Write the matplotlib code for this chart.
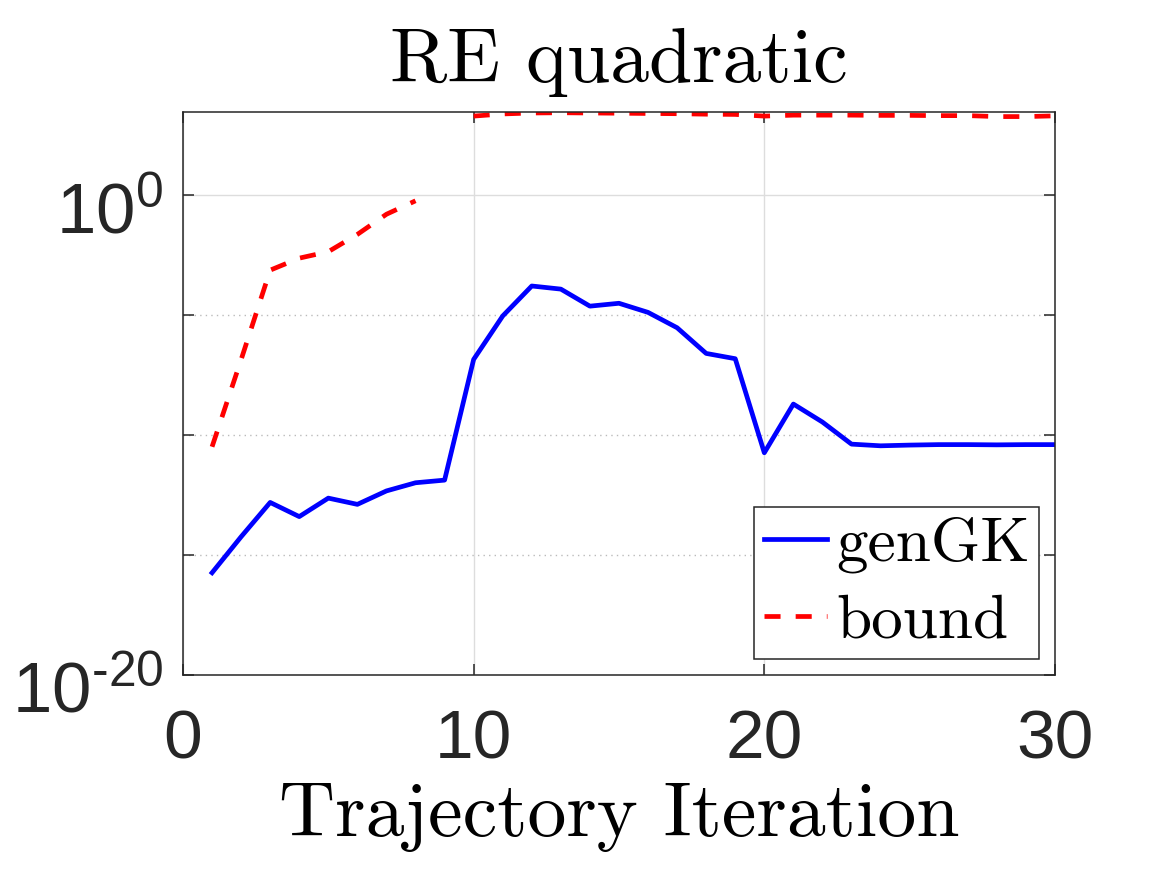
import numpy as np
import matplotlib
matplotlib.use("Agg")
import matplotlib.pyplot as plt
from matplotlib.transforms import ScaledTranslation

# Datos (log10 de los valores)
iteraciones = np.arange(1, 31)
gengk_log10 = [-15.74, -14.24, -12.81, -13.40, -12.63, -12.89, -12.33, -11.99, -11.88, -6.85,
               -5.04, -3.79, -3.92, -4.63, -4.51, -4.89, -5.53, -6.60, -6.82, -10.74,
               -8.71, -9.46, -10.38, -10.45, -10.42, -10.40, -10.40, -10.41, -10.40, -10.40]
bound_log10 = [-10.49, -6.86, -3.13, -2.63, -2.36, -1.64, -0.80, -0.24, np.nan, 3.29,
               3.38, 3.42, 3.43, 3.42, 3.41, 3.40, 3.39, 3.37, 3.36, 3.29,
               3.33, 3.33, 3.33, 3.32, 3.32, 3.31, 3.31, 3.27, 3.27, 3.30]
xticks = [0, 10, 20, 30]
yticks = [1e-20, 1e0]
yticklabels = [r"$10^{\text{-}20}$", r"$10^{0}$"]

gengk = 10.0 ** np.array(gengk_log10)
bound = 10.0 ** np.array(bound_log10)

plt.rcParams["font.family"] = ["Liberation Sans", "DejaVu Sans"]
plt.rcParams["mathtext.fontset"] = "custom"
plt.rcParams["mathtext.rm"] = "Liberation Sans"
plt.rcParams["mathtext.default"] = "regular"

fig = plt.figure(figsize=(11.67, 8.75), dpi=100)
ax = fig.add_axes([0.1568, 0.2286, 0.9040 - 0.1568, 0.8717 - 0.2286])

ax.plot(iteraciones, gengk, color="#0000ff", lw=3.4, label="genGK")
ax.plot(iteraciones, bound, color="#ff0000", lw=3.4, dashes=(3.4, 3.2), label="bound")

ax.set_yscale("log")
ax.set_xlim(0, 30)
ax.set_ylim(1e-20, 10 ** 3.45)

ax.set_xticks(xticks)
ax.set_yticks(yticks)
ax.set_yticks([1e-15, 1e-10, 1e-5], minor=True)
ax.set_yticklabels(yticklabels)
ax.yaxis.set_minor_formatter(matplotlib.ticker.NullFormatter())

ax.tick_params(axis="both", which="both", direction="in", top=True, right=True,
               length=8, width=1.1, color="#262626", labelcolor="#262626")
ax.tick_params(axis="x", labelsize=50, pad=24)
ax.tick_params(axis="y", labelsize=51, pad=14)

# bajar un poco las etiquetas del eje y (como en el original)
desplaza = ScaledTranslation(0, -12 / 100, fig.dpi_scale_trans)
for lbl in ax.get_yticklabels():
    lbl.set_transform(lbl.get_transform() + desplaza)

ax.grid(True, which="major", color="#dddddd", lw=1, ls="-")
ax.grid(True, which="minor", axis="y", color="#bbbbbb", lw=1, ls=(0, (1, 3)))
ax.set_axisbelow(True)
for s in ax.spines.values():
    s.set_color("#262626")
    s.set_linewidth(1.1)

ax.set_title("RE quadratic", family="cmr10", fontsize=56, pad=22)
ax.set_xlabel("Trajectory Iteration", family="cmr10", fontsize=56, labelpad=8)

leg = ax.legend(loc="lower right", prop={"family": "cmr10", "size": 45.5},
                fancybox=False, framealpha=1, edgecolor="#262626",
                handlelength=1.0, handletextpad=0.15, borderpad=0.15,
                labelspacing=0.32, borderaxespad=0.25)
leg.get_frame().set_linewidth(1.1)

fig.savefig("out.png", dpi=100)
